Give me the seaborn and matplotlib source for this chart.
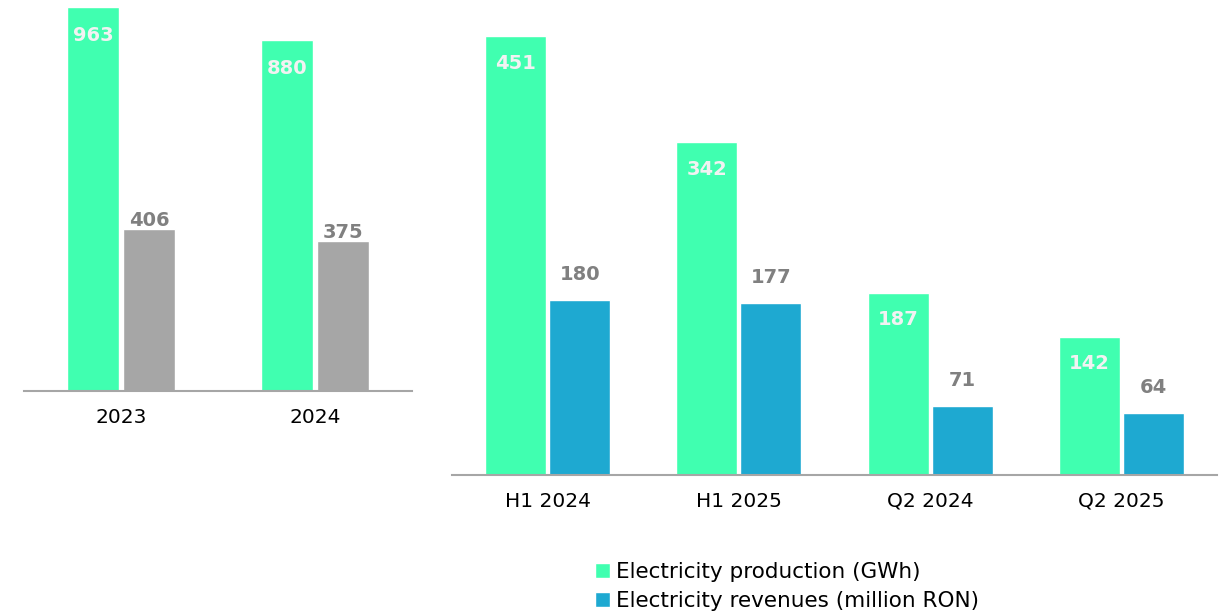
import pandas as pd
import seaborn as sns
import matplotlib.pyplot as plt

# data
years = ['2023', '2024']
year_production = [963, 880]
year_revenues = [406, 375]

periods = ['H1 2024', 'H1 2025', 'Q2 2024', 'Q2 2025']
period_production = [451, 342, 187, 142]
period_revenues = [180, 177, 71, 64]

series = ['Electricity production (GWh)', 'Electricity revenues (million RON)']

green = '#40FFB0'
blue = '#1EA9D1'
grey = '#A6A6A6'

sns.set_theme(style='white')
plt.rcParams['font.family'] = ['DejaVu Sans']

df_year = pd.DataFrame({
    'cat': years * 2,
    'series': [series[0]] * 2 + [series[1]] * 2,
    'value': year_production + year_revenues,
})
df_period = pd.DataFrame({
    'cat': periods * 2,
    'series': [series[0]] * 4 + [series[1]] * 4,
    'value': period_production + period_revenues,
})

fig = plt.figure(figsize=(12.21, 6.14), dpi=100)
ax1 = fig.add_axes([0.0197, 0.3632, 0.3178, 0.6368])
ax2 = fig.add_axes([0.3702, 0.2264, 0.6265, 0.7736])

sns.barplot(data=df_year, x='cat', y='value', hue='series', palette=[green, grey],
            width=0.574, gap=0.07, ax=ax1, legend=False, saturation=1)
sns.barplot(data=df_period, x='cat', y='value', hue='series', palette=[green, blue],
            width=0.67, gap=0.048, ax=ax2, legend=True, saturation=1)

ax1.set_ylim(0, 980.6)
ax2.set_ylim(0, 488)


def label_bars(ax, in_off, out_off):
    # first container: white labels inside the bar top, second: grey above
    for bar in ax.containers[0]:
        h = bar.get_height()
        ax.annotate(f'{h:.0f}', (bar.get_x() + bar.get_width() / 2, h),
                    xytext=(0, in_off), textcoords='offset pixels',
                    ha='center', va='center', color='#F2F2F2',
                    fontsize=14, fontweight='bold')
    for bar in ax.containers[1]:
        h = bar.get_height()
        ax.annotate(f'{h:.0f}', (bar.get_x() + bar.get_width() / 2, h),
                    xytext=(0, out_off), textcoords='offset pixels',
                    ha='center', va='center', color='#808080',
                    fontsize=14, fontweight='bold')


label_bars(ax1, -28, 9)
label_bars(ax2, -27, 25)

for ax in (ax1, ax2):
    ax.set_xlabel('')
    ax.set_ylabel('')
    ax.set_yticks([])
    sns.despine(ax=ax, left=True)
    ax.spines['bottom'].set_color(grey)
    ax.spines['bottom'].set_linewidth(1.5)
    ax.tick_params(axis='x', length=0, pad=12, labelsize=14.5, labelcolor='black')

handles, labels = ax2.get_legend_handles_labels()
ax2.get_legend().remove()
leg = fig.legend(handles, labels, loc='upper left', bbox_to_anchor=(0.487, 0.085),
                 ncol=1, frameon=False, fontsize=15.5, handlelength=0.7, handleheight=0.7,
                 handletextpad=0.3, labelspacing=0.43, borderaxespad=0, borderpad=0)
for t in leg.get_texts():
    t.set_color('black')

fig.savefig('out.png', dpi=100)
